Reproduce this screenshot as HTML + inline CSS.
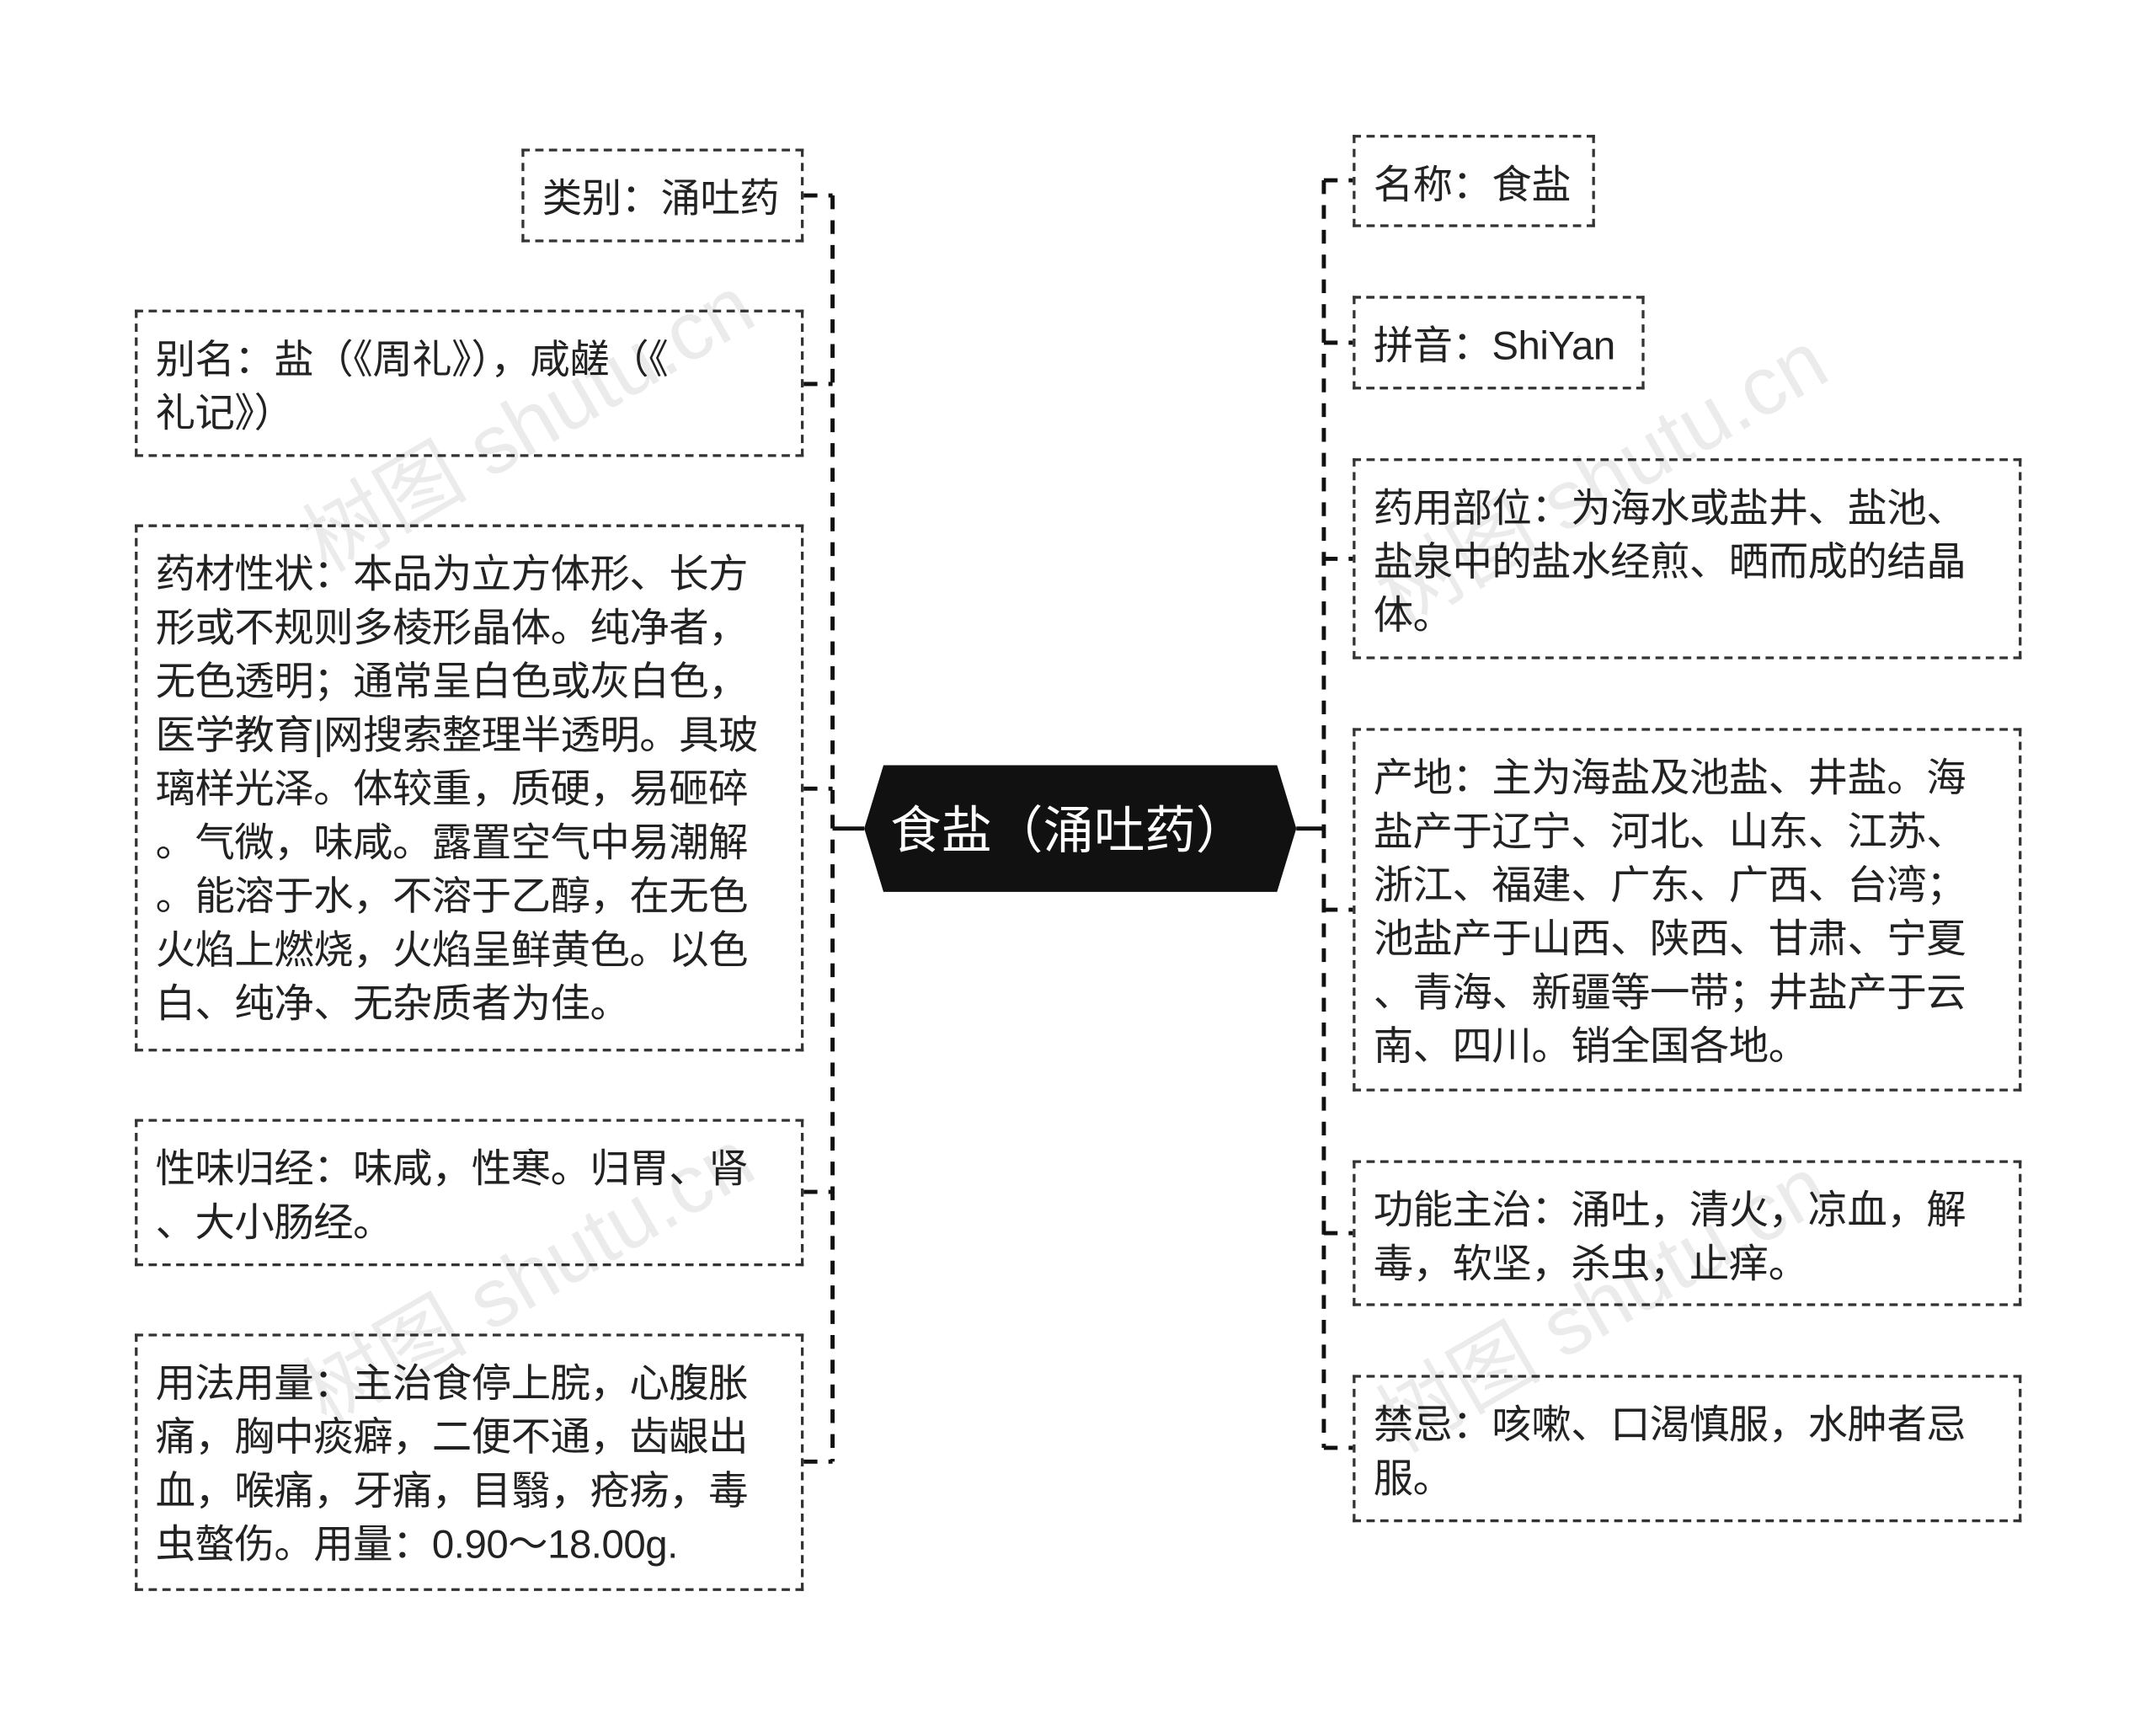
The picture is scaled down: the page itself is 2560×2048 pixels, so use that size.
<!DOCTYPE html>
<html><head><meta charset="utf-8"><style>
html,body{margin:0;padding:0;background:#fff;width:2560px;height:2048px;overflow:hidden}
#c{position:absolute;left:0;top:0;width:1560px;height:1248px;transform:scale(1.634);transform-origin:0 0;font-family:"Liberation Sans","Noto Sans CJK SC",sans-serif}
.b{position:absolute;box-sizing:border-box;border:2px dashed #333;padding:16px 10px 0 13px;font-size:29px;line-height:39px;color:#222;white-space:nowrap;letter-spacing:-0.3px}
.wm{position:absolute;color:rgba(0,0,0,0.08);font-size:60px;transform:rotate(-30deg);white-space:nowrap}
</style></head><body><div id="c">
<svg width="1560" height="1248" style="position:absolute;left:0;top:0">
<g stroke="#111" stroke-width="3" fill="none" stroke-dasharray="10,8">
<path d="M605 142V1062"/>
<path d="M584 142H605M584 279H605M584 573H605M584 866H605M584 1062H605"/>
<path d="M962 131V1052"/>
<path d="M962 131H983M962 249H983M962 406H983M962 661H983M962 896H983M962 1052H983"/>
</g>
<path d="M605 602H628M942 602H962" stroke="#111" stroke-width="3"/>
<polygon points="628,602 642,556 928,556 942,602 928,648 642,648" fill="#111"/>
<text x="647" y="616" fill="#fff" font-size="37" font-family="Liberation Sans,Noto Sans CJK SC,sans-serif">食盐（涌吐药）</text>
</svg>
<div class="b" style="left:379px;top:108px;width:205px;height:68px">类别：涌吐药</div>
<div class="b" style="left:98px;top:225px;width:486px;height:107px">别名：盐（《周礼》），咸鹾（《<br>礼记》）</div>
<div class="b" style="left:98px;top:381px;width:486px;height:383px">药材性状：本品为立方体形、长方<br>形或不规则多棱形晶体。纯净者，<br>无色透明；通常呈白色或灰白色，<br>医学教育|网搜索整理半透明。具玻<br>璃样光泽。体较重，质硬，易砸碎<br>。气微，味咸。露置空气中易潮解<br>。能溶于水，不溶于乙醇，在无色<br>火焰上燃烧，火焰呈鲜黄色。以色<br>白、纯净、无杂质者为佳。</div>
<div class="b" style="left:98px;top:813px;width:486px;height:107px">性味归经：味咸，性寒。归胃、肾<br>、大小肠经。</div>
<div class="b" style="left:98px;top:969px;width:486px;height:187px">用法用量：主治食停上脘，心腹胀<br>痛，胸中痰癖，二便不通，齿龈出<br>血，喉痛，牙痛，目翳，疮疡，毒<br>虫螫伤。用量：0.90～18.00g.</div>
<div class="b" style="left:983px;top:98px;width:176px;height:67px">名称：食盐</div>
<div class="b" style="left:983px;top:215px;width:212px;height:68px">拼音：ShiYan</div>
<div class="b" style="left:983px;top:333px;width:486px;height:146px">药用部位：为海水或盐井、盐池、<br>盐泉中的盐水经煎、晒而成的结晶<br>体。</div>
<div class="b" style="left:983px;top:529px;width:486px;height:264px">产地：主为海盐及池盐、井盐。海<br>盐产于辽宁、河北、山东、江苏、<br>浙江、福建、广东、广西、台湾；<br>池盐产于山西、陕西、甘肃、宁夏<br>、青海、新疆等一带；井盐产于云<br>南、四川。销全国各地。</div>
<div class="b" style="left:983px;top:843px;width:486px;height:106px">功能主治：涌吐，清火，凉血，解<br>毒，软坚，杀虫，止痒。</div>
<div class="b" style="left:983px;top:999px;width:486px;height:107px">禁忌：咳嗽、口渴慎服，水肿者忌<br>服。</div>
<div class="wm" style="left:200px;top:260px">树图 shutu.cn</div>
<div class="wm" style="left:200px;top:880px">树图 shutu.cn</div>
<div class="wm" style="left:980px;top:300px">树图 shutu.cn</div>
<div class="wm" style="left:980px;top:900px">树图 shutu.cn</div>
</div></body></html>
